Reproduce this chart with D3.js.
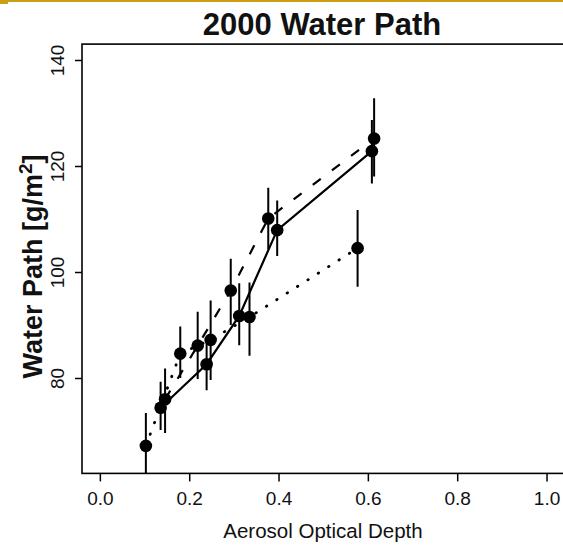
<!DOCTYPE html>
<html>
<head>
<meta charset="utf-8">
<script src="https://cdn.jsdelivr.net/npm/d3@7"></script>
<style>
  body { margin: 0; background: #fff; }
  text { font-family: "Liberation Sans", Arial, sans-serif; fill: #111; }
</style>
</head>
<body>
<script>
// three model runs, each point has mean and error bar (lo/hi)
const solidX  = [0.136, 0.239, 0.312, 0.397, 0.609];
const solidY  = [74.4, 82.6, 91.7, 107.9, 122.8];
const solidLo = [70.2, 77.7, 86.2, 103.0, 116.7];
const solidHi = [79.3, 87.5, 97.9, 113.5, 128.7];

const dashX  = [0.146, 0.219, 0.293, 0.377, 0.614];
const dashY  = [76.0, 86.1, 96.5, 110.1, 125.2];
const dashLo = [69.6, 79.8, 90.0, 104.3, 118.0];
const dashHi = [81.8, 92.5, 102.5, 115.9, 132.8];

const dotX  = [0.103, 0.18, 0.248, 0.335, 0.577];
const dotY  = [67.2, 84.6, 87.2, 91.5, 104.5];
const dotLo = [61.0, 80.0, 79.6, 84.2, 97.2];
const dotHi = [73.4, 89.7, 94.6, 98.0, 111.7];

const xTicks = [0, 0.2, 0.4, 0.6, 0.8, 1.0];
const yTicks = [80, 100, 120, 140];

const width = 563, height = 545;

const svg = d3.select('body').append('svg')
    .attr('width', width)
    .attr('height', height);

// little gold rule along the top of the slide
svg.append('rect').attr('x', 0).attr('y', 0).attr('width', width).attr('height', 2).attr('fill', '#cc9e14');
svg.append('rect').attr('x', 0).attr('y', 0).attr('width', 8).attr('height', 4).attr('fill', '#cc9e14');

// R style: limits padded by 4%
const x = d3.scaleLinear().domain([-0.04, 1.04]).range([82, 564.4]);
const y = d3.scaleLinear().domain([62, 143]).range([473.4, 44.1]);

svg.append('clipPath').attr('id', 'plotclip')
  .append('rect')
    .attr('x', x(-0.04)).attr('y', y(143))
    .attr('width', x(1.04) - x(-0.04)).attr('height', y(62) - y(143));

// box
svg.append('rect')
    .attr('x', x(-0.04)).attr('y', y(143))
    .attr('width', x(1.04) - x(-0.04)).attr('height', y(62) - y(143))
    .attr('fill', 'none').attr('stroke', '#000').attr('stroke-width', 1.6);

// axes
const xAxis = svg.append('g')
    .attr('transform', 'translate(0,' + y(62) + ')')
    .call(d3.axisBottom(x).tickValues(xTicks).tickFormat(d3.format('.1f')).tickSize(8).tickPadding(10));
xAxis.select('.domain').remove();
xAxis.selectAll('line').attr('stroke', '#000').attr('stroke-width', 1.5);
xAxis.selectAll('text').attr('font-size', 19).attr('font-family', null).attr('fill', null);

const yAxis = svg.append('g')
    .attr('transform', 'translate(' + x(-0.04) + ',0)')
    .call(d3.axisLeft(y).tickValues(yTicks).tickSize(7));
yAxis.select('.domain').remove();
yAxis.selectAll('line').attr('stroke', '#000').attr('stroke-width', 1.5);
yAxis.selectAll('text')
    .attr('font-size', 19).attr('font-family', null).attr('fill', null)
    .attr('transform', 'rotate(-90)')
    .attr('x', 0).attr('y', -18.5).attr('dy', 0)
    .style('text-anchor', 'middle');

// titles
svg.append('text')
    .attr('x', 322).attr('y', 35)
    .attr('text-anchor', 'middle')
    .attr('font-size', 31).attr('font-weight', 'bold')
    .text('2000 Water Path');

svg.append('text')
    .attr('x', 323).attr('y', 538)
    .attr('text-anchor', 'middle')
    .attr('font-size', 20.5)
    .text('Aerosol Optical Depth');

const ylab = svg.append('text')
    .attr('transform', 'translate(41.5,266.5) rotate(-90)')
    .attr('text-anchor', 'middle')
    .attr('font-size', 27).attr('font-weight', 'bold');
ylab.append('tspan').text('Water Path [g/m');
ylab.append('tspan').attr('font-size', 19).attr('dy', -10).text('2');
ylab.append('tspan').attr('dy', 10).text(']');

// build series from the arrays
function makeSeries(xs, ys, lo, hi) {
    return xs.map((d, i) => ({ x: d, y: ys[i], lo: lo[i], hi: hi[i] }));
}
const series = [
    { pts: makeSeries(solidX, solidY, solidLo, solidHi), dash: null, width: 2.2, cap: 'butt' },
    { pts: makeSeries(dashX, dashY, dashLo, dashHi), dash: '10,14', width: 2.2, cap: 'butt' },
    { pts: makeSeries(dotX, dotY, dotLo, dotHi), dash: '0.5,11.8', width: 2.8, cap: 'round' }
];

const plot = svg.append('g').attr('clip-path', 'url(#plotclip)');
const line = d3.line().x(d => x(d.x)).y(d => y(d.y));

series.forEach(s => {
    plot.append('path')
        .datum(s.pts)
        .attr('d', line)
        .attr('fill', 'none')
        .attr('stroke', '#000')
        .attr('stroke-width', s.width)
        .attr('stroke-linecap', s.cap)
        .attr('stroke-dasharray', s.dash);

    plot.selectAll(null)
        .data(s.pts)
        .enter().append('line')
        .attr('x1', d => x(d.x)).attr('x2', d => x(d.x))
        .attr('y1', d => y(d.lo)).attr('y2', d => y(d.hi))
        .attr('stroke', '#000').attr('stroke-width', 2);

    plot.selectAll(null)
        .data(s.pts)
        .enter().append('circle')
        .attr('cx', d => x(d.x)).attr('cy', d => y(d.y))
        .attr('r', 6.3)
        .attr('fill', '#000');
});
</script>
</body>
</html>
